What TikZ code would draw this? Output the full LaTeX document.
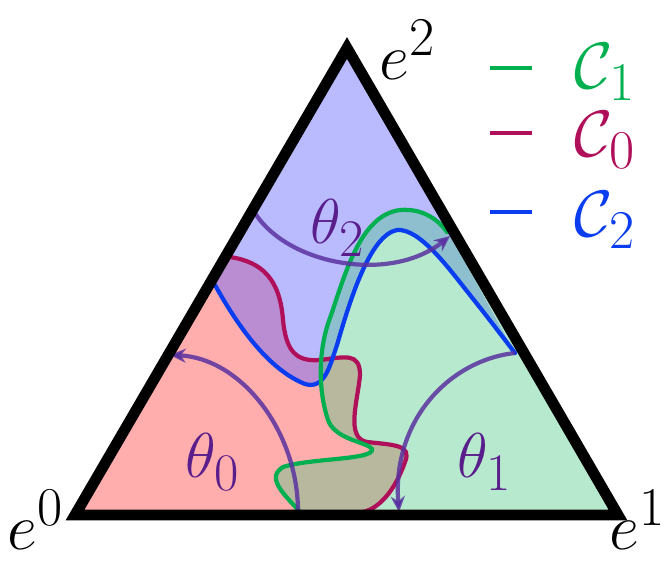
\documentclass[tikz,border=0pt]{standalone}
\usepackage{amsmath}
\usepackage{graphicx}
\usetikzlibrary{arrows.meta}
\definecolor{cgreen}{HTML}{00B050}
\definecolor{cred}{HTML}{B0105A}
\definecolor{cblue}{HTML}{0A3CF0}
\definecolor{carc}{HTML}{5A32A0}
\definecolor{clab}{HTML}{5A1E8C}
\newcommand{\bigA}[1]{\scalebox{1.45}{\Huge #1}}
\newcommand{\bigB}[1]{\scalebox{1.5}{\Huge #1}}
\begin{document}
\begin{tikzpicture}[x=0.02cm,y=-0.02cm,
  curveC/.style={line width=2.4pt,line cap=round},
  arcT/.style={line width=2.4pt,carc,draw opacity=0.85,-{Stealth[length=9pt,width=8pt]}},
  lab/.style={text=clab,inner sep=0pt},
  vlab/.style={inner sep=0pt},
  leg/.style={inner sep=0pt}]
\useasboundingbox (0,0) rectangle (672,562);
\coordinate (E0) at (75,515);
\coordinate (E1) at (618,515);
\coordinate (E2) at (347,48);
% regions
\fill[red,fill opacity=0.32] (E0) -- (230,257) .. controls (263,262) and (280,280) .. (283,320)
 .. controls (286,350) and (295,362) .. (320,360) .. controls (345,357) and (360,352) .. (360,375)
 .. controls (358,400) and (345,438) .. (367,442) .. controls (395,445) and (412,445) .. (405,462)
 .. controls (395,490) and (380,508) .. (363,512) -- cycle;
\fill[blue!60!white,fill opacity=0.45] (E2) -- (215,285) .. controls (240,330) and (270,370) .. (305,384)
 .. controls (325,390) and (330,365) .. (337,345) .. controls (350,300) and (370,235) .. (397,230)
 .. controls (420,228) and (450,270) .. (470,295) .. controls (490,320) and (505,340) .. (515,353) -- cycle;
\fill[cgreen!70!white,fill opacity=0.4] (300,512) .. controls (285,495) and (265,478) .. (283,467)
 .. controls (310,458) and (375,460) .. (372,449) .. controls (368,442) and (335,440) .. (328,420)
 .. controls (318,390) and (318,350) .. (330,318) .. controls (345,275) and (360,215) .. (400,210)
 .. controls (425,208) and (440,222) .. (447,232) -- (E1) -- cycle;
% curves
\draw[curveC,cred] (230,257) .. controls (263,262) and (280,280) .. (283,320)
 .. controls (286,350) and (295,362) .. (320,360) .. controls (345,357) and (360,352) .. (360,375)
 .. controls (358,400) and (345,438) .. (367,442) .. controls (395,445) and (412,445) .. (405,462)
 .. controls (395,490) and (380,508) .. (363,512);
\draw[curveC,cblue] (215,285) .. controls (240,330) and (270,370) .. (305,384)
 .. controls (325,390) and (330,365) .. (337,345) .. controls (350,300) and (370,235) .. (397,230)
 .. controls (420,228) and (450,270) .. (470,295) .. controls (490,320) and (505,340) .. (515,353);
\draw[curveC,cgreen] (300,512) .. controls (285,495) and (265,478) .. (283,467)
 .. controls (310,458) and (375,460) .. (372,449) .. controls (368,442) and (335,440) .. (328,420)
 .. controls (318,390) and (318,350) .. (330,318) .. controls (345,275) and (360,215) .. (400,210)
 .. controls (425,208) and (440,222) .. (447,232);
% arcs
\draw[arcT] (253,210) .. controls (285,265) and (390,284) .. (450,236);
\draw[arcT] (298,512) .. controls (298,430) and (240,358) .. (170,355);
\draw[arcT] (515,353) .. controls (450,360) and (392,420) .. (399,512);
% triangle
\draw[line width=6.2pt,line join=miter] (E0) -- (E1) -- (E2) -- cycle;
% labels
\node[lab] (t2) at (338,228) {\bigA{$\theta_2$}};
\node[lab] (t0) at (213,462) {\bigA{$\theta_0$}};
\node[lab] (t1) at (485,462) {\bigA{$\theta_1$}};
\node[vlab] (v2) at (408,50) {\bigB{$e^2$}};
\node[vlab] (v0) at (36,520) {\bigB{$e^0$}};
\node[vlab] (v1) at (638,520) {\bigB{$e^1$}};
% legend
\coordinate (l1a) at (490,68); \coordinate (l1b) at (532,68);
\coordinate (l0a) at (490,133); \coordinate (l0b) at (532,133);
\coordinate (l2a) at (490,212); \coordinate (l2b) at (532,212);
\draw[line width=2.4pt,cgreen] (l1a) -- (l1b);
\draw[line width=2.4pt,cred] (l0a) -- (l0b);
\draw[line width=2.4pt,cblue] (l2a) -- (l2b);
\node[leg,text=cgreen] (n1) at (605,72) {\bigB{$\mathcal{C}_1$}};
\node[leg,text=cred] (n0) at (605,140) {\bigB{$\mathcal{C}_0$}};
\node[leg,text=cblue] (n2) at (605,220) {\bigB{$\mathcal{C}_2$}};
\end{tikzpicture}
\end{document}
